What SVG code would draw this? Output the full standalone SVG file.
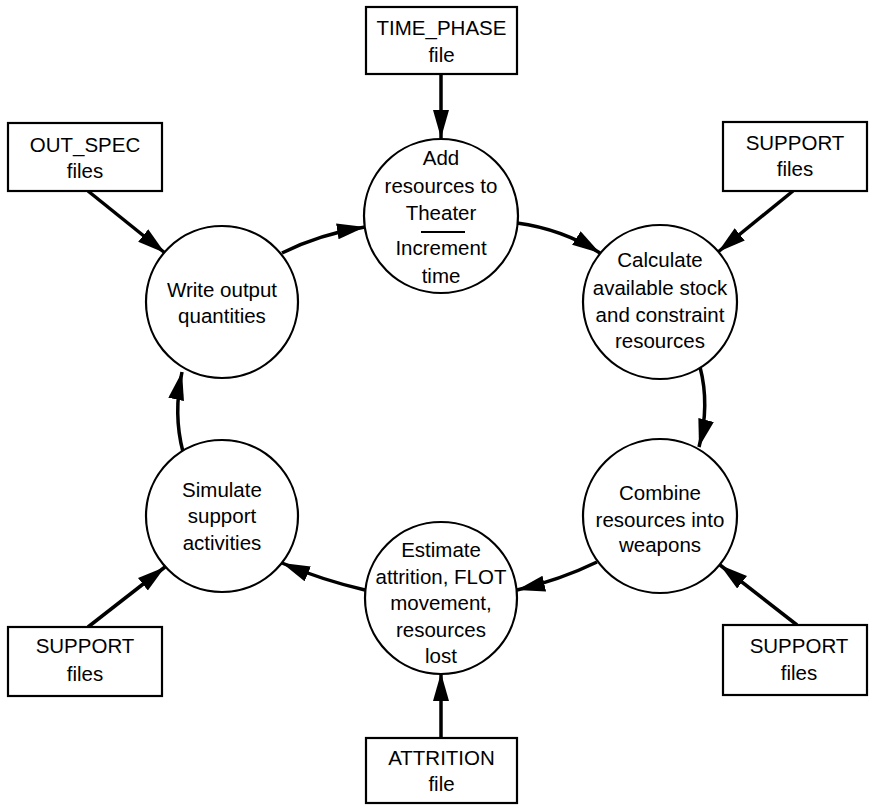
<svg xmlns="http://www.w3.org/2000/svg" width="869" height="805" viewBox="0 0 869 805">
<style>
.box{fill:#fff;stroke:#000;stroke-width:2.2}
.node{fill:#fff;stroke:#000;stroke-width:2.2}
.t{font-family:"Liberation Sans",Arial,sans-serif;font-size:20.5px;fill:#000;text-anchor:middle}
.c{fill:none;stroke:#000;stroke-width:3.5}
</style>
<defs>
<marker id="ah" markerUnits="userSpaceOnUse" markerWidth="30" markerHeight="18" refX="28" refY="8" orient="auto">
<path d="M0,0 L28,8 L0,16 Z" fill="#000"/>
</marker>
</defs>
<g id="connectors">
<path class="c" d="M441,74 L441,138" marker-end="url(#ah)"/>
<path class="c" d="M88,191 L165,253" marker-end="url(#ah)"/>
<path class="c" d="M793,191 L718,252" marker-end="url(#ah)"/>
<path class="c" d="M797,625 L720,565" marker-end="url(#ah)"/>
<path class="c" d="M88,627 L165,567" marker-end="url(#ah)"/>
<path class="c" d="M441,738 L441,673" marker-end="url(#ah)"/>
<path class="c" d="M282,253 Q320,234 365,227" marker-end="url(#ah)"/>
<path class="c" d="M517,223 Q562,229 600,253" marker-end="url(#ah)"/>
<path class="c" d="M700,367 Q710,405 699,447" marker-end="url(#ah)"/>
<path class="c" d="M597,562 Q560,580 517,590" marker-end="url(#ah)"/>
<path class="c" d="M365,590 Q322,580 282,563" marker-end="url(#ah)"/>
<path class="c" d="M183,452 Q173,414 182,372" marker-end="url(#ah)"/>
</g>
<g id="time_phase">
<rect class="box" x="366" y="7" width="151" height="67"/>
<text class="t" x="441.5" y="35">TIME_PHASE</text>
<text class="t" x="441.5" y="62">file</text>
</g>
<g id="out_spec">
<rect class="box" x="8" y="123" width="154" height="68"/>
<text class="t" x="85" y="152">OUT_SPEC</text>
<text class="t" x="85" y="178">files</text>
</g>
<g id="support_tr">
<rect class="box" x="723" y="122" width="144" height="69"/>
<text class="t" x="795" y="150">SUPPORT</text>
<text class="t" x="795" y="176">files</text>
</g>
<g id="support_br">
<rect class="box" x="723" y="625" width="144" height="70"/>
<text class="t" x="799" y="653">SUPPORT</text>
<text class="t" x="799" y="680">files</text>
</g>
<g id="support_bl">
<rect class="box" x="8" y="627" width="154" height="69"/>
<text class="t" x="85" y="653">SUPPORT</text>
<text class="t" x="85" y="681">files</text>
</g>
<g id="attrition">
<rect class="box" x="366" y="738" width="151" height="65"/>
<text class="t" x="441.5" y="765">ATTRITION</text>
<text class="t" x="441.5" y="791">file</text>
</g>
<g id="add_resources">
<circle class="node" cx="441" cy="216" r="77"/>
<text class="t" x="441" y="165">Add</text>
<text class="t" x="441" y="193">resources to</text>
<text class="t" x="441" y="220">Theater</text>
<line x1="421" y1="232" x2="465" y2="232" stroke="#000" stroke-width="1.8"/>
<text class="t" x="441" y="255">Increment</text>
<text class="t" x="441" y="283">time</text>
</g>
<g id="calculate">
<circle class="node" cx="660" cy="302" r="77"/>
<text class="t" x="660" y="267">Calculate</text>
<text class="t" x="660" y="295">available stock</text>
<text class="t" x="660" y="322">and constraint</text>
<text class="t" x="660" y="348">resources</text>
</g>
<g id="combine">
<circle class="node" cx="660" cy="516" r="77"/>
<text class="t" x="660" y="500">Combine</text>
<text class="t" x="660" y="527">resources into</text>
<text class="t" x="660" y="552">weapons</text>
</g>
<g id="estimate">
<circle class="node" cx="441" cy="598" r="76"/>
<text class="t" x="441" y="557">Estimate</text>
<text class="t" x="441" y="584">attrition, FLOT</text>
<text class="t" x="441" y="610">movement,</text>
<text class="t" x="441" y="637">resources</text>
<text class="t" x="441" y="663">lost</text>
</g>
<g id="simulate">
<circle class="node" cx="222" cy="516" r="76"/>
<text class="t" x="222" y="497">Simulate</text>
<text class="t" x="222" y="523">support</text>
<text class="t" x="222" y="550">activities</text>
</g>
<g id="write_output">
<circle class="node" cx="222" cy="302" r="76"/>
<text class="t" x="222" y="297">Write output</text>
<text class="t" x="222" y="323">quantities</text>
</g>
</svg>
